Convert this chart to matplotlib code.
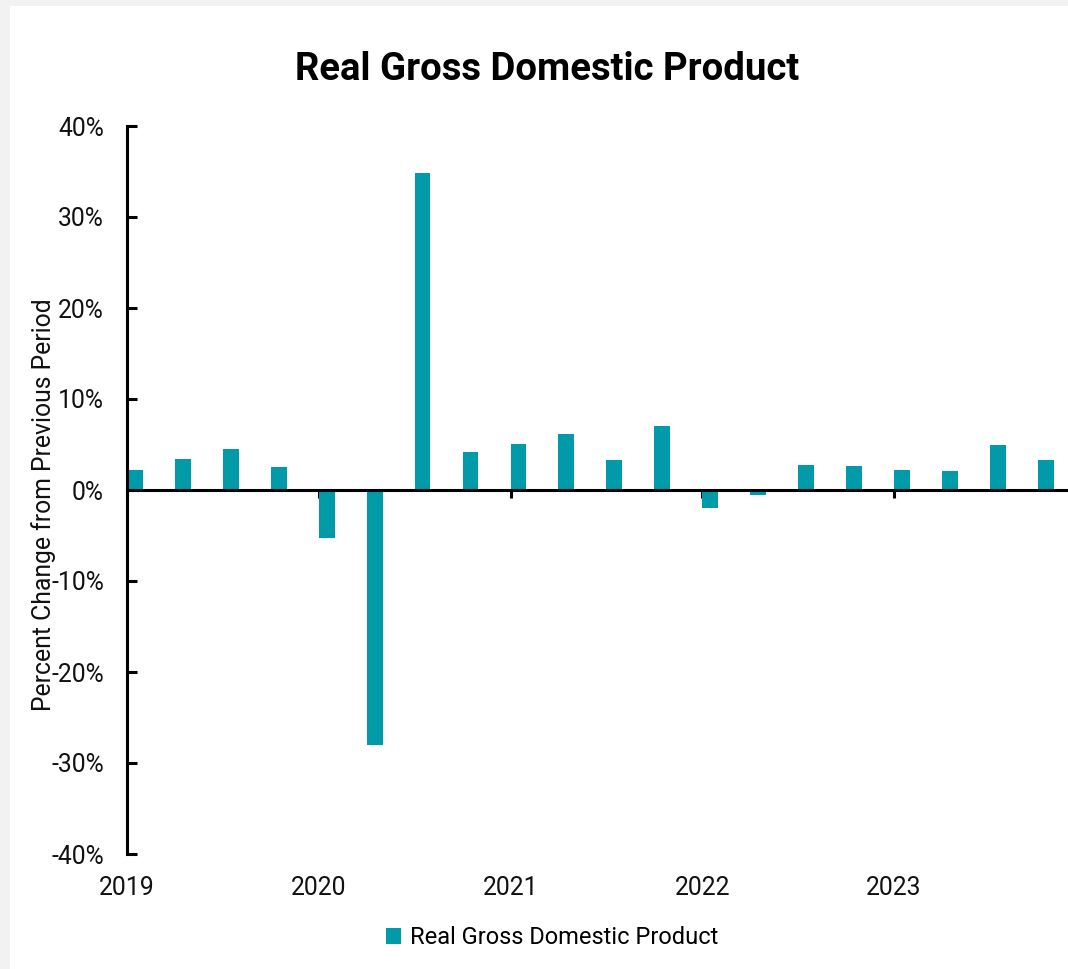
import numpy as np
import matplotlib.pyplot as plt
from matplotlib.patches import Rectangle, Patch
from matplotlib.ticker import FuncFormatter

plt.rcParams['font.family'] = ['Roboto', 'DejaVu Sans']

years = ["2019", "2020", "2021", "2022", "2023"]
quarters = [f"{y} Q{q}" for y in years for q in range(1, 5)]
gdp_change = [2.2, 3.4, 4.5, 2.5,
              -5.3, -28.0, 34.8, 4.2,
              5.1, 6.2, 3.3, 7.0,
              -2.0, -0.6, 2.7, 2.6,
              2.2, 2.1, 4.9, 3.3]

teal = "#009aa8"
fs = 17.8

fig = plt.figure(figsize=(10.68, 9.69), dpi=100)
fig.patch.set_facecolor("#f2f2f2")
# white card on the grey page
fig.patches.append(Rectangle((10 / 1068, 0), 1, 1 - 6 / 969, transform=fig.transFigure,
                             facecolor="white", edgecolor="none", zorder=-5))

ax = fig.add_axes([127 / 1068, 1 - 854 / 969, 1 - 127 / 1068, 728 / 969], zorder=2)
ax.set_facecolor("none")

x = np.arange(len(gdp_change))
ax.bar(x, gdp_change, width=0.33, align="edge", color=teal, zorder=2,
       label="Real Gross Domestic Product")

ax.set_xlim(0, 941 / 47.94)
ax.set_ylim(-40, 40)
ax.set_yticks(np.arange(-40, 41, 10))
ax.yaxis.set_major_formatter(FuncFormatter(lambda v, p: f"{v:.0f}%"))

ax.spines[["top", "right"]].set_visible(False)
ax.spines["bottom"].set_position(("data", 0))
ax.spines["bottom"].set_zorder(3)
for s in ["left", "bottom"]:
    ax.spines[s].set_linewidth(2.2)
    ax.spines[s].set_color("black")

ax.set_xticks(np.arange(0, 20, 4))
ax.set_xticklabels([])
for i, y in enumerate(years):
    ax.text(i * 4, -42.4, y, ha="center", va="top", fontsize=fs, color="#111111")

ax.tick_params(axis="x", direction="out", length=6, width=2.2, color="black")
ax.tick_params(axis="y", direction="in", length=7, width=2.2, labelsize=fs,
               labelcolor="#111111", pad=16.5)

ax.set_ylabel("Percent Change from Previous Period", fontsize=fs, color="#111111")
ax.yaxis.set_label_coords(-0.075, 0.48)

fig.text(547 / 1068, 1 - 69 / 969, "Real Gross Domestic Product", ha="center", va="center",
         fontsize=27.5, fontweight="bold", color="black")

fig.legend(handles=[Patch(facecolor=teal, label="Real Gross Domestic Product")],
           loc="center", bbox_to_anchor=(552 / 1068, 1 - 938 / 969), frameon=False,
           fontsize=17, handlelength=0.65, handleheight=0.65, handletextpad=0.35)

fig.savefig("out.png", dpi=100, facecolor=fig.get_facecolor())
